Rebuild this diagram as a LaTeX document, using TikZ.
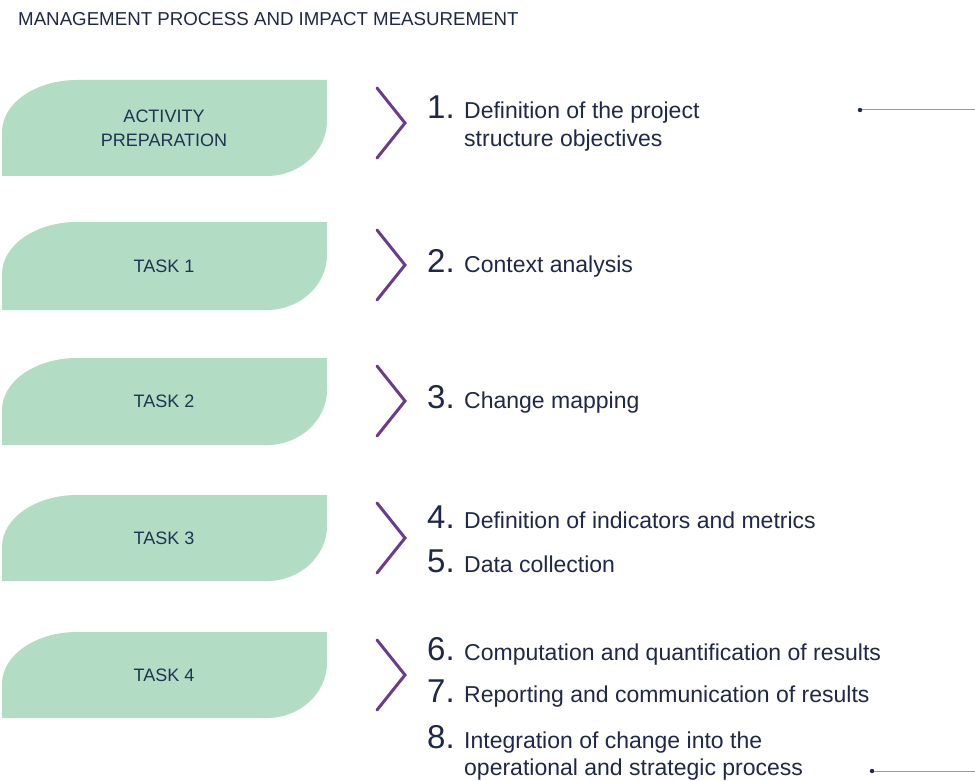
\documentclass[tikz,border=0pt]{standalone}
\usepackage{fontspec}
\setmainfont{Liberation Sans}
\definecolor{boxgreen}{HTML}{B3DCC5}
\definecolor{navy}{HTML}{1F2848}
\definecolor{labnavy}{HTML}{1D3550}
\definecolor{chev}{HTML}{6A3D8C}
\definecolor{rule}{HTML}{9A9A9A}
\begin{document}
\begin{tikzpicture}[x=1pt,y=-1pt,
  boxlabel/.style={font=\fontsize{18}{24}\selectfont, text=labnavy, align=center},
  numlabel/.style={font=\fontsize{33}{33}\selectfont, text=navy, anchor=base west, inner sep=0pt},
  itemlabel/.style={font=\fontsize{23}{28}\selectfont, text=navy, anchor=base west, inner sep=0pt},
  chevline/.style={draw=chev, line width=3pt, line cap=round, line join=miter},
  ruleline/.style={draw=rule, line width=1pt},
]
\useasboundingbox (0,0) rectangle (975,781);
\fill[white] (0,0) rectangle (975,781);

% title
\node[anchor=base west, inner sep=0pt, font=\fontsize{18.7}{22}\selectfont, text=navy] (title) at (18,26) {MANAGEMENT PROCESS AND IMPACT MEASUREMENT};

% boxes
\newcommand{\greenbox}[2]{%
  \fill[boxgreen] (2,#2) -- (2,#1+52) .. controls (2,#1+23) and (36,#1) .. (77,#1)
    -- (327,#1) -- (327,#2-55) .. controls (327,#2-25) and (300,#2) .. (267,#2) -- cycle;}
\greenbox{80}{176}
\greenbox{222}{310}
\greenbox{358}{445}
\greenbox{495}{581}
\greenbox{632}{718}

\node[boxlabel] (b0) at (164,128) {ACTIVITY\\PREPARATION};
\node[boxlabel] (b1) at (164,266) {TASK 1};
\node[boxlabel] (b2) at (164,401) {TASK 2};
\node[boxlabel] (b3) at (164,538) {TASK 3};
\node[boxlabel] (b4) at (164,675) {TASK 4};

% chevrons
\foreach \c in {123,265,401,538,675}{
  \draw[chevline] (377,\c-35) -- (405,\c) -- (377,\c+35);
}

% numbered items
\node[numlabel] (n1) at (427,119) {1.};
\node[itemlabel] (t1) at (464,119) {Definition of the project};
\node[itemlabel] (t1b) at (464,147) {structure objectives};
\node[numlabel] (n2) at (427,272) {2.};
\node[itemlabel] (t2) at (464,272) {Context analysis};
\node[numlabel] (n3) at (427,408) {3.};
\node[itemlabel] (t3) at (464,408) {Change mapping};
\node[numlabel] (n4) at (427,528) {4.};
\node[itemlabel] (t4) at (464,528) {Definition of indicators and metrics};
\node[numlabel] (n5) at (427,572) {5.};
\node[itemlabel] (t5) at (464,572) {Data collection};
\node[numlabel] (n6) at (427,660) {6.};
\node[itemlabel] (t6) at (464,660) {Computation and quantification of results};
\node[numlabel] (n7) at (427,702) {7.};
\node[itemlabel] (t7) at (464,702) {Reporting and communication of results};
\node[numlabel] (n8) at (427,748) {8.};
\node[itemlabel] (t8) at (464,748) {Integration of change into the};
\node[itemlabel] (t8b) at (464,775) {operational and strategic process};

% rules with dots
\coordinate (d1) at (860,110);
\coordinate (e1) at (975,110);
\coordinate (d2) at (872,771);
\coordinate (e2) at (975,771);
\draw[ruleline] (d1) -- (e1);
\draw[ruleline] (d2) -- (e2);
\fill[navy] (d1) circle (2.2);
\fill[navy] (d2) circle (2.2);
\end{tikzpicture}
\end{document}
